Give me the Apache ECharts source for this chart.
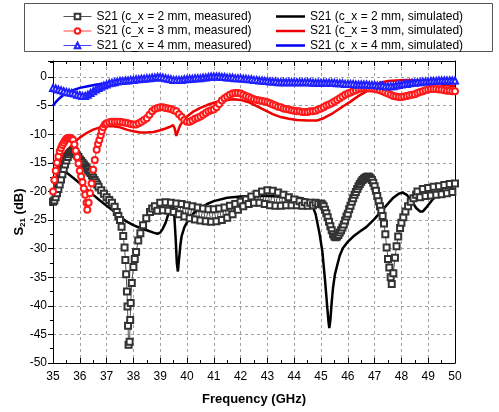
<!DOCTYPE html>
<html>
<head>
<meta charset="utf-8">
<script src="https://cdn.jsdelivr.net/npm/echarts@6/dist/echarts.min.js"></script>
<style>
	html, body { margin: 0; padding: 0; background: #fff; }
	#chart { width: 499px; height: 412px; }
</style>
</head>
<body>
<div id="chart"></div>
<script>
const seriesNames = [
	'S21 (c_x = 2 mm, measured)',
	'S21 (c_x = 2 mm, simulated)',
	'S21 (c_x = 3 mm, measured)',
	'S21 (c_x = 3 mm, simulated)',
	'S21 (c_x = 4 mm, measured)',
	'S21 (c_x = 4 mm, simulated)'
];
const xTicks = [35, 36, 37, 38, 39, 40, 41, 42, 43, 44, 45, 46, 47, 48, 49, 50];
const yTicks = [0, -5, -10, -15, -20, -25, -30, -35, -40, -45, -50];

// [frequency GHz, S21 dB]
const measured2 = [
	[35.0, -21.8], [35.05, -21.6], [35.1, -21.0], [35.15, -20.3], [35.2, -19.6], [35.25, -18.8], [35.3, -17.9],
	[35.35, -17.0], [35.4, -16.1], [35.45, -15.3], [35.5, -14.6], [35.55, -14.0], [35.6, -13.5], [35.65, -13.2],
	[35.7, -13.0], [35.75, -13.0], [35.8, -13.1], [35.85, -13.4], [35.9, -13.7], [35.95, -14.0], [36.0, -14.4],
	[36.05, -14.7], [36.1, -15.0], [36.15, -15.3], [36.2, -15.6], [36.25, -15.9], [36.3, -16.2], [36.35, -16.5],
	[36.4, -16.8], [36.45, -17.2], [36.5, -17.6], [36.55, -18.0], [36.6, -18.4], [36.65, -18.8], [36.7, -19.2],
	[36.8, -19.8], [36.9, -20.4], [37.0, -21.0], [37.1, -21.5], [37.2, -22.0], [37.3, -22.7], [37.38, -23.6],
	[37.44, -24.3], [37.5, -25.0], [37.56, -26.2], [37.62, -27.8], [37.67, -29.8], [37.7, -32.0], [37.73, -34.5],
	[37.76, -37.5], [37.78, -40.1], [37.8, -43.5], [37.82, -46.8], [37.86, -46.3], [37.88, -42.5], [37.9, -39.5],
	[37.94, -36.0], [38.0, -33.2], [38.05, -31.8], [38.1, -30.6], [38.18, -28.6], [38.26, -27.3], [38.36, -25.9],
	[38.48, -24.7], [38.62, -23.6], [38.7, -23.0],
	[38.8, -22.6], [38.9, -23.4], [39.0, -22.0], [39.1, -23.3], [39.2, -21.9], [39.3, -23.4], [39.4, -22.0],
	[39.5, -23.6], [39.6, -22.1], [39.7, -24.0], [39.8, -22.2], [39.9, -24.4], [40.0, -22.4], [40.1, -24.7],
	[40.2, -22.6], [40.3, -24.9], [40.4, -22.8], [40.5, -25.1], [40.6, -23.0], [40.7, -25.2], [40.8, -23.1],
	[40.9, -25.3], [41.0, -23.1], [41.1, -25.2], [41.2, -23.0], [41.3, -25.0], [41.4, -22.8], [41.5, -24.6],
	[41.6, -22.5], [41.7, -24.0], [41.8, -22.2], [41.9, -23.2], [42.0, -21.8], [42.1, -22.6], [42.2, -21.4],
	[42.3, -22.2], [42.4, -20.9], [42.5, -22.0], [42.6, -20.4], [42.7, -22.0], [42.8, -20.0], [42.9, -22.2],
	[43.0, -19.8], [43.1, -22.4], [43.2, -19.9], [43.3, -22.5], [43.4, -20.2], [43.5, -22.5], [43.6, -20.6],
	[43.7, -22.4], [43.8, -21.0], [43.9, -22.4], [44.0, -21.4], [44.1, -22.4], [44.2, -21.7], [44.3, -22.5],
	[44.4, -21.9], [44.5, -22.5], [44.6, -22.0], [44.7, -22.4], [44.8, -22.0], [44.9, -22.2], [45.0, -22.1],
	[45.05, -22.3], [45.1, -22.6], [45.15, -23.2], [45.2, -23.8], [45.25, -24.5], [45.3, -25.3], [45.35, -26.1],
	[45.4, -26.8], [45.45, -27.5], [45.5, -27.9], [45.55, -28.0], [45.6, -27.9], [45.65, -27.6], [45.7, -27.2],
	[45.75, -26.8], [45.8, -26.3], [45.85, -25.8], [45.9, -25.1], [45.95, -24.4], [46.0, -23.9], [46.05, -23.1],
	[46.1, -22.5], [46.15, -21.8], [46.2, -21.2], [46.25, -20.6], [46.3, -20.1], [46.35, -19.6], [46.4, -19.1],
	[46.45, -18.7], [46.5, -18.3], [46.55, -18.0], [46.6, -17.8], [46.65, -17.6], [46.7, -17.5], [46.75, -17.4],
	[46.8, -17.5], [46.85, -17.7], [46.9, -18.0], [46.95, -18.5], [47.0, -19.1], [47.05, -19.9], [47.1, -20.8],
	[47.15, -21.7], [47.2, -22.6], [47.25, -23.4], [47.3, -24.3], [47.35, -25.6], [47.4, -27.5], [47.45, -29.8],
	[47.5, -31.8], [47.55, -33.3], [47.6, -35.0], [47.64, -36.2], [47.7, -34.3], [47.76, -31.6], [47.82, -29.6],
	[47.88, -27.9], [47.95, -26.4], [48.0, -25.5], [48.07, -24.5], [48.15, -23.5], [48.25, -22.6], [48.35, -21.8],
	[48.45, -21.2], [48.55, -20.6], [48.6, -20.0], [48.7, -21.0], [48.8, -19.6], [48.9, -20.8], [49.0, -19.4],
	[49.1, -20.7], [49.2, -19.2], [49.3, -20.6], [49.4, -19.1], [49.5, -20.5], [49.6, -18.9], [49.7, -20.3],
	[49.8, -18.7], [49.9, -20.1], [50.0, -18.6]
];
const simulated2 = [
	[35.0, -14.8], [35.25, -15.8], [35.5, -16.7], [35.75, -17.6], [36.0, -18.6], [36.25, -19.6], [36.5, -20.6],
	[36.75, -21.6], [37.0, -22.5], [37.25, -23.4], [37.5, -24.4], [37.75, -25.3], [38.0, -25.9], [38.25, -26.4],
	[38.5, -26.8], [38.75, -27.2], [38.9, -27.4], [39.0, -27.2], [39.1, -26.5], [39.2, -25.5], [39.3, -24.0],
	[39.38, -22.3], [39.43, -21.5], [39.48, -22.3], [39.53, -24.5], [39.58, -28.5], [39.62, -32.5], [39.66, -34.0],
	[39.7, -32.0], [39.75, -29.5], [39.8, -27.8], [39.9, -26.3], [40.0, -25.4], [40.1, -24.7], [40.25, -23.8],
	[40.5, -22.9], [40.75, -22.2], [41.0, -21.7], [41.5, -21.1], [42.0, -20.9], [42.5, -20.8], [43.0, -20.8],
	[43.5, -20.9], [44.0, -21.0], [44.3, -21.2], [44.5, -21.6], [44.65, -22.1], [44.8, -24.0], [44.95, -27.5],
	[45.05, -30.5], [45.15, -35.5], [45.22, -39.5], [45.28, -42.8], [45.31, -43.9], [45.35, -42.5], [45.4, -39.3],
	[45.45, -36.8], [45.52, -34.5], [45.6, -33.0], [45.7, -31.2], [45.82, -29.9], [46.0, -28.8], [46.2, -27.9],
	[46.45, -27.0], [46.7, -26.2], [47.0, -24.8], [47.2, -23.7], [47.45, -22.4], [47.7, -21.1], [47.9, -20.4],
	[48.05, -20.2], [48.2, -20.6], [48.4, -21.8], [48.55, -22.9], [48.7, -23.5], [48.8, -23.5], [48.95, -22.7],
	[49.15, -21.5], [49.35, -20.4], [49.55, -19.4], [49.8, -18.8], [50.0, -18.3]
];
const measured3 = [
	[35.0, -20.0], [35.05, -18.0], [35.1, -16.4], [35.15, -15.0], [35.2, -13.9], [35.25, -13.0], [35.3, -12.4],
	[35.35, -11.9], [35.4, -11.5], [35.45, -11.1], [35.5, -10.8], [35.55, -10.7], [35.6, -10.6], [35.65, -10.7],
	[35.7, -10.8], [35.75, -11.0], [35.8, -11.8], [35.85, -12.9], [35.9, -14.0], [35.95, -15.1], [36.0, -16.4],
	[36.05, -17.4], [36.1, -18.4], [36.15, -19.5], [36.2, -20.6], [36.25, -22.0], [36.28, -23.2], [36.33, -22.0],
	[36.38, -20.3], [36.44, -18.6], [36.5, -16.2], [36.56, -14.5], [36.63, -12.7], [36.68, -11.7], [36.73, -11.0],
	[36.78, -10.2], [36.82, -9.5], [36.88, -8.8], [36.94, -8.3], [37.0, -8.1], [37.1, -7.9], [37.2, -7.8],
	[37.3, -7.8], [37.4, -7.8], [37.5, -7.8], [37.6, -7.9], [37.7, -8.0], [37.8, -8.1], [37.9, -8.2],
	[38.0, -8.3], [38.1, -8.3], [38.2, -8.1], [38.3, -7.8], [38.4, -7.5], [38.5, -7.2], [38.6, -6.6],
	[38.7, -6.0], [38.8, -5.6], [38.9, -5.4], [39.0, -5.3], [39.1, -5.3], [39.2, -5.4], [39.3, -5.5],
	[39.4, -5.6], [39.5, -5.8], [39.6, -6.0], [39.7, -6.5], [39.8, -7.0], [39.9, -7.5], [40.0, -7.8],
	[40.1, -7.8], [40.2, -7.6], [40.3, -7.3], [40.4, -7.1], [40.5, -6.9], [40.6, -6.6], [40.7, -6.3],
	[40.8, -6.0], [40.9, -5.8], [41.0, -5.7], [41.1, -5.3], [41.2, -4.7], [41.3, -4.1], [41.4, -3.7],
	[41.5, -3.4], [41.6, -3.1], [41.7, -2.9], [41.8, -2.8], [41.9, -2.8], [42.0, -2.9], [42.1, -3.1],
	[42.2, -3.3], [42.3, -3.5], [42.4, -3.7], [42.5, -3.9], [42.6, -4.0], [42.7, -4.1], [42.8, -4.2],
	[42.9, -4.3], [43.0, -4.4], [43.1, -4.6], [43.2, -4.8], [43.3, -5.0], [43.4, -5.2], [43.5, -5.3],
	[43.6, -5.5], [43.7, -5.6], [43.8, -5.7], [43.9, -5.8], [44.0, -5.9], [44.1, -6.0], [44.2, -6.0],
	[44.3, -6.1], [44.4, -6.1], [44.5, -6.1], [44.6, -6.0], [44.7, -6.0], [44.8, -5.9], [44.9, -5.7],
	[45.0, -5.5], [45.1, -5.3], [45.2, -5.0], [45.3, -4.8], [45.4, -4.6], [45.5, -4.3], [45.6, -4.0],
	[45.7, -3.7], [45.8, -3.4], [45.9, -3.1], [46.0, -2.9], [46.1, -2.7], [46.2, -2.5], [46.3, -2.3],
	[46.4, -2.1], [46.5, -2.0], [46.6, -1.9], [46.7, -1.9], [46.8, -2.0], [46.9, -2.0], [47.0, -2.1],
	[47.1, -2.2], [47.2, -2.3], [47.3, -2.5], [47.4, -2.7], [47.5, -2.9], [47.6, -3.1], [47.7, -3.3],
	[47.8, -3.4], [47.9, -3.5], [48.0, -3.5], [48.1, -3.4], [48.2, -3.3], [48.3, -3.2], [48.4, -3.1],
	[48.5, -3.0], [48.6, -2.8], [48.7, -2.6], [48.8, -2.5], [48.9, -2.3], [49.0, -2.2], [49.1, -2.1],
	[49.2, -2.1], [49.3, -2.1], [49.4, -2.2], [49.5, -2.2], [49.6, -2.3], [49.7, -2.4], [49.8, -2.4],
	[49.9, -2.5], [50.0, -2.5]
];
const simulated3 = [
	[35.0, -20.0], [35.1, -18.3], [35.2, -16.3], [35.3, -14.6], [35.4, -13.5], [35.5, -12.9], [35.63, -12.3],
	[35.8, -11.4], [36.0, -10.6], [36.25, -9.8], [36.5, -9.2], [36.75, -8.8], [37.0, -8.6], [37.25, -8.6],
	[37.5, -8.8], [37.75, -9.2], [38.0, -9.5], [38.25, -9.7], [38.5, -9.7], [38.75, -9.6], [39.0, -9.3],
	[39.2, -9.0], [39.37, -8.7], [39.48, -8.4], [39.54, -9.0], [39.6, -10.3], [39.66, -9.5], [39.74, -8.5],
	[39.85, -7.7], [40.0, -6.9], [40.25, -6.0], [40.5, -5.4], [40.75, -4.9], [41.0, -4.5], [41.25, -4.2],
	[41.5, -4.0], [41.75, -3.9], [42.0, -4.0], [42.3, -4.4], [42.6, -5.1], [42.9, -5.8], [43.2, -6.5],
	[43.5, -7.0], [43.8, -7.3], [44.1, -7.5], [44.5, -7.6], [44.85, -7.6], [45.1, -7.2], [45.45, -6.3],
	[45.8, -5.2], [46.1, -4.3], [46.4, -3.3], [46.7, -2.5], [47.0, -1.6], [47.2, -1.0], [47.5, -0.7],
	[47.8, -0.6], [48.2, -0.5], [48.6, -0.6], [48.9, -0.9], [49.2, -1.1], [49.6, -1.4], [50.0, -1.6]
];
const measured4 = [
	[35.0, -1.9], [35.1, -2.0], [35.2, -2.2], [35.3, -2.3], [35.4, -2.5], [35.5, -2.6], [35.6, -2.7],
	[35.7, -2.8], [35.8, -2.9], [35.9, -3.1], [36.0, -3.2], [36.1, -3.3], [36.2, -3.3], [36.3, -3.1],
	[36.4, -2.8], [36.5, -2.5], [36.6, -2.2], [36.7, -1.9], [36.8, -1.7], [36.9, -1.5], [37.0, -1.3],
	[37.1, -1.1], [37.2, -1.0], [37.3, -0.9], [37.4, -0.8], [37.5, -0.7], [37.6, -0.7], [37.7, -0.6],
	[37.8, -0.6], [37.9, -0.5], [38.0, -0.5], [38.1, -0.4], [38.2, -0.4], [38.3, -0.3], [38.4, -0.3],
	[38.5, -0.2], [38.6, -0.2], [38.7, -0.1], [38.8, -0.1], [38.9, 0.0], [39.0, 0.0], [39.1, -0.1],
	[39.2, -0.2], [39.3, -0.3], [39.4, -0.4], [39.5, -0.5], [39.6, -0.5], [39.7, -0.5], [39.8, -0.5],
	[39.9, -0.4], [40.0, -0.4], [40.1, -0.3], [40.2, -0.3], [40.3, -0.2], [40.4, -0.2], [40.5, -0.2],
	[40.6, -0.1], [40.7, -0.1], [40.8, 0.0], [40.9, 0.1], [41.0, 0.1], [41.1, 0.1], [41.2, 0.1],
	[41.3, 0.0], [41.4, 0.0], [41.5, -0.1], [41.6, -0.1], [41.7, -0.1], [41.8, -0.2], [41.9, -0.2],
	[42.0, -0.2], [42.1, -0.3], [42.2, -0.3], [42.3, -0.4], [42.4, -0.4], [42.5, -0.5], [42.6, -0.5],
	[42.7, -0.6], [42.8, -0.6], [42.9, -0.7], [43.0, -0.7], [43.1, -0.8], [43.2, -0.8], [43.3, -0.8],
	[43.4, -0.9], [43.5, -0.9], [43.6, -0.9], [43.7, -0.9], [43.8, -0.9], [43.9, -0.9], [44.0, -0.9],
	[44.1, -0.9], [44.2, -0.9], [44.3, -0.9], [44.4, -0.9], [44.5, -0.9], [44.6, -0.9], [44.7, -1.0],
	[44.8, -1.0], [44.9, -1.0], [45.0, -1.0], [45.1, -1.0], [45.2, -1.0], [45.3, -1.0], [45.4, -1.0],
	[45.5, -1.0], [45.6, -1.1], [45.7, -1.1], [45.8, -1.1], [45.9, -1.2], [46.0, -1.2], [46.1, -1.2],
	[46.2, -1.2], [46.3, -1.3], [46.4, -1.3], [46.5, -1.3], [46.6, -1.3], [46.7, -1.3], [46.8, -1.4],
	[46.9, -1.4], [47.0, -1.4], [47.1, -1.5], [47.2, -1.5], [47.3, -1.5], [47.4, -1.6], [47.5, -1.6],
	[47.6, -1.6], [47.7, -1.6], [47.8, -1.5], [47.9, -1.4], [48.0, -1.3], [48.1, -1.2], [48.2, -1.2],
	[48.3, -1.1], [48.4, -1.0], [48.5, -1.0], [48.6, -0.9], [48.7, -0.9], [48.8, -0.8], [48.9, -0.8],
	[49.0, -0.8], [49.1, -0.7], [49.2, -0.7], [49.3, -0.7], [49.4, -0.6], [49.5, -0.6], [49.6, -0.6],
	[49.7, -0.6], [49.8, -0.6], [49.9, -0.6], [50.0, -0.6]
];
const simulated4 = [
	[35.0, -5.0], [35.1, -4.4], [35.2, -3.9], [35.3, -3.5], [35.4, -3.1], [35.5, -2.8], [35.75, -2.3],
	[36.0, -1.9], [36.3, -1.6], [36.63, -1.3], [37.0, -1.1], [37.5, -0.9], [38.0, -0.7], [38.6, -0.6],
	[39.3, -0.5], [40.1, -0.5], [40.8, -0.4], [41.5, -0.4], [42.3, -0.5], [43.2, -0.6], [43.9, -0.7],
	[44.5, -0.9], [45.1, -1.1], [45.7, -1.3], [46.3, -1.6], [46.95, -1.8], [47.4, -1.6], [47.8, -1.3],
	[48.2, -1.0], [48.7, -0.8], [49.2, -0.8], [49.7, -0.8], [50.0, -0.9]
];

const font = 'Liberation Sans, Arial, sans-serif';
const gridLine = { show: true, lineStyle: { color: '#a0a0a0', type: [3, 3], width: 1 } };
const legendText = { fontSize: 12, color: '#000', fontFamily: font, lineHeight: 13 };

const measuredSeries = (name, data, symbol, color, lineColor) => ({
	name,
	type: 'line',
	data,
	symbol,
	symbolSize: 6,
	showAllSymbol: true,
	color,
	itemStyle: { color, borderColor: color, borderWidth: 1 },
	lineStyle: { color: lineColor, width: 1 }
});
const simulatedSeries = (name, data, color) => ({
	name,
	type: 'line',
	data,
	symbol: 'none',
	color,
	lineStyle: { color, width: 2.5 }
});

const chart = echarts.init(document.getElementById('chart'));
const option = {
	animation: false,
	backgroundColor: '#fff',
	textStyle: { fontFamily: font },
	graphic: [
		{
			type: 'rect',
			shape: { x: 24.5, y: 3.5, width: 468, height: 48 },
			style: { fill: 'none', stroke: '#555', lineWidth: 1 },
			z: 0
		}
	],
	legend: [
		{
			data: [seriesNames[0], seriesNames[2], seriesNames[4]],
			orient: 'vertical',
			left: 63,
			top: 10,
			padding: 0,
			itemWidth: 28,
			itemHeight: 7,
			itemGap: 1.5,
			lineStyle: { width: 1 },
			itemStyle: { borderWidth: 1 },
			textStyle: legendText
		},
		{
			data: [
				{ name: seriesNames[1], icon: 'rect' },
				{ name: seriesNames[3], icon: 'rect' },
				{ name: seriesNames[5], icon: 'rect' }
			],
			orient: 'vertical',
			left: 276,
			top: 10,
			padding: 0,
			itemWidth: 29,
			itemHeight: 2.5,
			itemGap: 1.5,
			textStyle: legendText
		}
	],
	grid: { left: 53, right: 44, top: 61, bottom: 49, containLabel: false, outerBoundsMode: 'none' },
	xAxis: [
		{
			type: 'value',
			min: xTicks[0],
			max: xTicks[xTicks.length - 1],
			interval: 1,
			name: 'Frequency (GHz)',
			nameLocation: 'middle',
			nameGap: 30,
			nameMoveOverlap: false,
			nameTextStyle: { fontSize: 13, fontWeight: 'bold', color: '#000', fontFamily: font },
			axisLine: { show: true, onZero: false, lineStyle: { color: '#000', width: 1 } },
			axisTick: { show: true, inside: true, length: 5, lineStyle: { color: '#000' } },
			minorTick: { show: true, splitNumber: 2, length: 3, lineStyle: { color: '#000' } },
			axisLabel: { fontSize: 12, color: '#000', margin: 8, fontFamily: font },
			splitLine: gridLine
		},
		{
			type: 'value',
			position: 'top',
			min: xTicks[0],
			max: xTicks[xTicks.length - 1],
			interval: 1,
			axisLine: { show: true, onZero: false, lineStyle: { color: '#000', width: 1 } },
			axisTick: { show: true, inside: true, length: 5, lineStyle: { color: '#000' } },
			minorTick: { show: true, splitNumber: 2, length: 3, lineStyle: { color: '#000' } },
			axisLabel: { show: false },
			splitLine: { show: false }
		}
	],
	yAxis: [
		{
			type: 'value',
			min: yTicks[yTicks.length - 1],
			max: 2.8,
			interval: 5,
			name: '{b|S}{s|21}{b| (dB)}',
			nameLocation: 'middle',
			nameGap: 26,
			nameMoveOverlap: false,
			nameTextStyle: {
				color: '#000',
				rich: {
					b: { fontSize: 13, fontWeight: 'bold', fontFamily: font, color: '#000', lineHeight: 16, verticalAlign: 'middle' },
					s: { fontSize: 8, fontWeight: 'bold', fontFamily: font, color: '#000', lineHeight: 16, verticalAlign: 'bottom', padding: [6, 0, 0, 0] }
				}
			},
			axisLine: { show: true, onZero: false, lineStyle: { color: '#000', width: 1 } },
			axisTick: { show: true, inside: false, length: 5, lineStyle: { color: '#000' } },
			minorTick: { show: true, splitNumber: 2, length: 3, lineStyle: { color: '#000' } },
			axisLabel: {
				fontSize: 12,
				color: '#000',
				margin: 6,
				fontFamily: font,
				formatter: (v) => (yTicks.indexOf(v) >= 0 ? String(v) : '')
			},
			splitLine: gridLine
		},
		{
			type: 'value',
			position: 'right',
			min: yTicks[yTicks.length - 1],
			max: 2.8,
			interval: 5,
			axisLine: { show: true, onZero: false, lineStyle: { color: '#000', width: 1 } },
			axisTick: { show: false },
			axisLabel: { show: false },
			splitLine: { show: false }
		}
	],
	series: [
		measuredSeries(seriesNames[0], measured2, 'emptyRect', '#333', '#555'),
		simulatedSeries(seriesNames[1], simulated2, '#000'),
		measuredSeries(seriesNames[2], measured3, 'emptyCircle', '#ff1a1a', '#ff4040'),
		simulatedSeries(seriesNames[3], simulated3, '#ee0000'),
		measuredSeries(seriesNames[4], measured4, 'emptyTriangle', '#2020ff', '#4040ff'),
		simulatedSeries(seriesNames[5], simulated4, '#0000ee')
	]
};
chart.setOption(option);
</script>
</body>
</html>
